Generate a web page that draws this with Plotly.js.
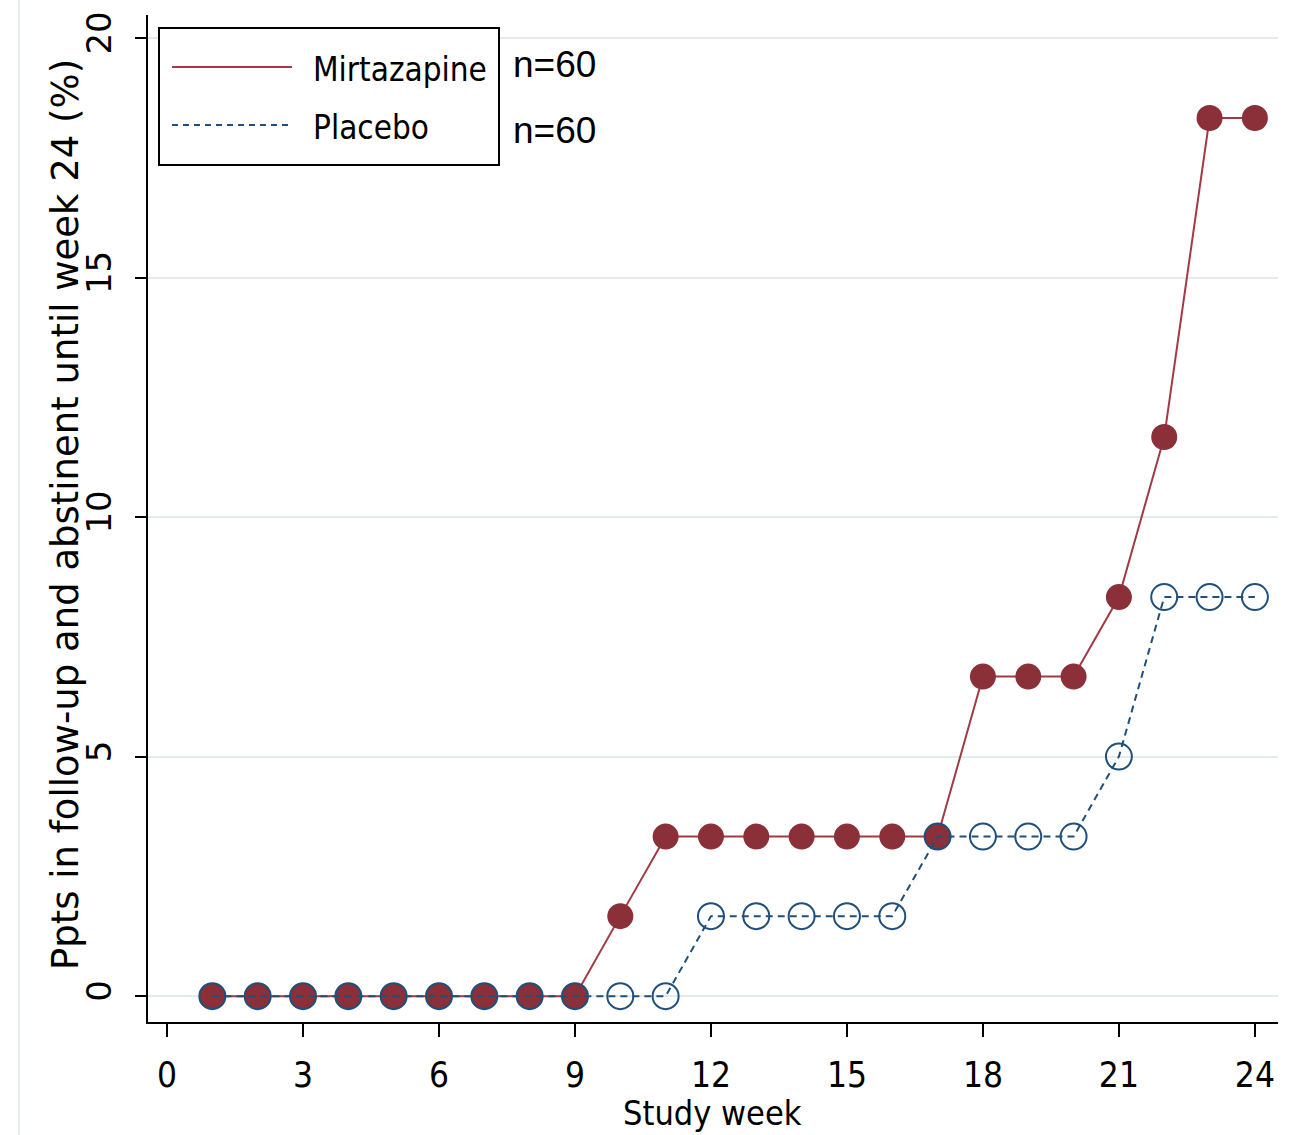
<!DOCTYPE html>
<html><head><meta charset="utf-8">
<script src="https://cdn.plot.ly/plotly-3.0.1.min.js"></script>
<style>html,body{margin:0;padding:0;background:#fff}#chart{width:1293px;height:1135px}</style>
</head><body><div id="chart"></div><script>
const weeks = [1,2,3,4,5,6,7,8,9,10,11,12,13,14,15,16,17,18,19,20,21,22,23,24];
const mirtazapine = [0,0,0,0,0,0,0,0,0,1.67,3.33,3.33,3.33,3.33,3.33,3.33,3.33,6.67,6.67,6.67,8.33,11.67,18.33,18.33];
const placebo = [0,0,0,0,0,0,0,0,0,0,0,1.67,1.67,1.67,1.67,1.67,3.33,3.33,3.33,3.33,5,8.33,8.33,8.33];
const seriesNames = ['Mirtazapine','Placebo'];
const sampleSizes = ['n=60','n=60'];
const xTicks = [0,3,6,9,12,15,18,21,24];
const yTicks = [0,5,10,15,20];
const xTitle = 'Study week';
const yTitle = 'Ppts in follow-up and abstinent until week 24 (%)';

const RED = '#8b2f38', REDLINE = '#a13a44', BLUE = '#1f4f7a';
const NARROW = '"Liberation Sans Narrow", "DejaVu Sans Condensed", "Arial Narrow", sans-serif';
const WIDE = '"DejaVu Sans", "Liberation Sans", Arial, sans-serif';

const traces = [
  {x: weeks, y: mirtazapine, name: seriesNames[0], type: 'scatter', mode: 'lines+markers',
   line: {color: REDLINE, width: 2},
   marker: {symbol: 'circle', size: 26, color: RED, line: {color: RED, width: 0}}},
  {x: weeks, y: placebo, name: seriesNames[1], type: 'scatter', mode: 'lines+markers',
   line: {color: BLUE, width: 2, dash: '7px,5px'},
   marker: {symbol: 'circle-open', size: 26, color: BLUE, line: {color: BLUE, width: 2}}}
];

const L = 148, R = 1278, T = 15, B = 1022;
const W = R - L, H = B - T;
const px = v => (v - L) / W, py = v => (B - v) / H;

const layout = {
  width: 1293, height: 1135,
  margin: {l: L, r: 1293 - R, t: T, b: 1135 - B, pad: 0},
  paper_bgcolor: '#ffffff', plot_bgcolor: '#ffffff',
  showlegend: false,
  xaxis: {
    range: [-0.42, 24.51], tickvals: xTicks, ticktext: xTicks.map(String),
    showgrid: false, zeroline: false, showline: true, linecolor: '#000', linewidth: 2,
    ticks: 'outside', ticklen: 13, tickwidth: 2, tickcolor: '#000',
    ticklabelstandoff: 8,
    tickfont: {family: NARROW, size: 35, color: '#000'},
    automargin: false
  },
  yaxis: {
    range: [-0.54, 20.48], tickvals: yTicks, ticktext: yTicks.map(String),
    showgrid: true, gridcolor: '#e2ecec', gridwidth: 2,
    zeroline: false, showline: true, linecolor: '#000', linewidth: 2,
    ticks: 'outside', ticklen: 11, tickwidth: 2, tickcolor: '#000',
    tickangle: -90, ticklabelstandoff: 10,
    tickfont: {family: WIDE, size: 34, color: '#000'},
    automargin: false
  },
  shapes: [
    {type: 'rect', xref: 'paper', yref: 'paper', x0: px(159), x1: px(499), y0: py(165), y1: py(28),
     line: {color: '#000', width: 2}, fillcolor: '#ffffff', layer: 'above'},
    {type: 'line', xref: 'paper', yref: 'paper', x0: px(172), x1: px(292), y0: py(67), y1: py(67),
     line: {color: REDLINE, width: 2}},
    {type: 'line', xref: 'paper', yref: 'paper', x0: px(172), x1: px(292), y0: py(125), y1: py(125),
     line: {color: BLUE, width: 2, dash: '6px,5px'}},
    {type: 'line', xref: 'paper', yref: 'paper', x0: px(19), x1: px(19), y0: py(0), y1: py(1135),
     line: {color: '#e9edf0', width: 2}, layer: 'below'}
  ],
  annotations: [
    {xref: 'paper', yref: 'paper', x: px(65), y: py(515), text: yTitle, showarrow: false, textangle: -90,
     xanchor: 'center', yanchor: 'middle', font: {family: WIDE, size: 37, color: '#000'}},
    {xref: 'paper', yref: 'paper', x: px(712), y: py(1113), text: xTitle, showarrow: false,
     xanchor: 'center', yanchor: 'middle', font: {family: NARROW, size: 34, color: '#000'}},
    {xref: 'paper', yref: 'paper', x: px(311), y: py(70), text: seriesNames[0], showarrow: false,
     xanchor: 'left', yanchor: 'middle', font: {family: NARROW, size: 33, color: '#000'}},
    {xref: 'paper', yref: 'paper', x: px(311), y: py(128), text: seriesNames[1], showarrow: false,
     xanchor: 'left', yanchor: 'middle', font: {family: NARROW, size: 33, color: '#000'}},
    {xref: 'paper', yref: 'paper', x: px(511), y: py(64), text: sampleSizes[0], showarrow: false,
     xanchor: 'left', yanchor: 'middle', font: {family: '"Liberation Sans", Arial, sans-serif', size: 37, color: '#000'}},
    {xref: 'paper', yref: 'paper', x: px(511), y: py(130), text: sampleSizes[1], showarrow: false,
     xanchor: 'left', yanchor: 'middle', font: {family: '"Liberation Sans", Arial, sans-serif', size: 37, color: '#000'}}
  ]
};

Plotly.newPlot('chart', traces, layout, {displayModeBar: false, staticPlot: true});
</script></body></html>
